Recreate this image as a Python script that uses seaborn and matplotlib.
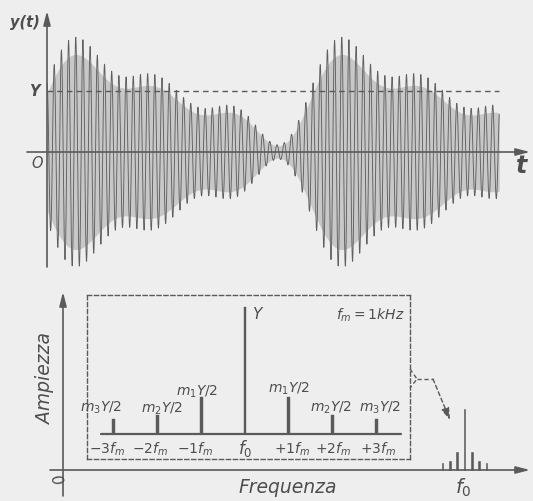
import numpy as np
import matplotlib
matplotlib.use("Agg")
import matplotlib.pyplot as plt
import seaborn as sns

# ---------------- data ----------------
carrier_amp = 1.0                      # Y
mod_index = [0.58, 0.30, 0.24]         # m1, m2, m3
sideband_order = [-3, -2, -1, 0, 1, 2, 3]
spectrum_amps = [mod_index[2] / 2, mod_index[1] / 2, mod_index[0] / 2, carrier_amp,
                 mod_index[0] / 2, mod_index[1] / 2, mod_index[2] / 2]
bar_labels = [r'$m_3Y/2$', r'$m_2Y/2$', r'$m_1Y/2$', 'Y',
              r'$m_1Y/2$', r'$m_2Y/2$', r'$m_3Y/2$']
tick_labels = [r'$-3f_m$', r'$-2f_m$', r'$-1f_m$', r'$f_0$',
               r'$+1f_m$', r'$+2f_m$', r'$+3f_m$']
fm_khz = 1.0                           # modulating frequency (1 period = 1 ms)
carrier_khz = 37.0                     # carrier cycles per modulation period
signal_span_ms = 1.70                  # duration of drawn waveform
envelope_phase_ms = -0.011             # time of the envelope's steep rise
f0_small = 55.0                        # carrier position on the lower frequency axis

# ---------------- style ----------------
sns.set_theme(style="white")
plt.rcParams['font.family'] = ['DejaVu Sans']
plt.rcParams['mathtext.fontset'] = 'dejavusans'
BG = '#eeeeee'
INK = '#5a5a5a'
TXT = '#4e4e4e'

W, H = 533, 502
fig = plt.figure(figsize=(W / 100, H / 100), dpi=100, facecolor=BG)

# ---------------- top panel: modulated signal ----------------
ax = fig.add_axes([0, 1 - 280 / H, 1, 280 / H])
ax.set_facecolor('none')
PXT = 266.0   # px per ms
PYT = 61.0    # px per Y
ax.set_xlim(-47 / PXT, (W - 47) / PXT)
ax.set_ylim(-(280 - 153) / PYT, 153 / PYT)
ax.axis('off')

def ptop(px, py):
    return (px - 47) / PXT, (153 - py) / PYT

t = np.linspace(0, signal_span_ms, 24000)
theta = 2 * np.pi * fm_khz * (t - envelope_phase_ms)
env = carrier_amp * (1 + sum(m * np.sin((k + 1) * theta) for k, m in enumerate(mod_index)))
y = env * np.cos(2 * np.pi * carrier_khz * t)

ax.fill_between(t, -0.85 * env, 0.85 * env, color='#b0b0b0', alpha=0.6, lw=0)
sns.lineplot(x=t, y=y, ax=ax, sort=False, estimator=None, color='#606060', lw=0.65)

# Y dashed reference
ax.plot([0, signal_span_ms], [carrier_amp, carrier_amp], color=INK, lw=1.0,
        ls=(0, (4, 3)))

arrow_kw = dict(arrowstyle='-|>,head_length=0.7,head_width=0.18', color=INK, lw=1.2,
                shrinkA=0, shrinkB=0)
ax.annotate('', xy=ptop(530, 153), xytext=ptop(27, 153), arrowprops=arrow_kw)
ax.annotate('', xy=ptop(47, 12), xytext=ptop(47, 268), arrowprops=arrow_kw)

ax.text(*ptop(25, 23), 'y(t)', fontsize=10.5, style='italic', weight='bold',
        color=TXT, ha='center', va='center')
ax.text(*ptop(34, 92), 'Y', fontsize=10.5, style='italic', weight='bold',
        color=TXT, ha='center', va='center')
ax.text(*ptop(37, 164), 'O', fontsize=10.5, style='italic', color=TXT,
        ha='center', va='center')
ax.text(*ptop(522, 166), 't', fontsize=17, style='italic', weight='bold',
        color=TXT, ha='center', va='center')

# ---------------- bottom panel: spectrum ----------------
bx = fig.add_axes([0, 0, 1, 222 / H])
bx.set_facecolor('none')
PXB = 7.3
PYB = 61.0

def pbot(px, py):
    return (px - 63) / PXB, (471 - py) / PYB

small_freqs = [f0_small + k * fm_khz for k in sideband_order]
sns.barplot(x=small_freqs, y=spectrum_amps, ax=bx, native_scale=True,
            width=0.22, color=INK, saturation=1, edgecolor=INK, linewidth=0.4)
bx.set_xlim(-63 / PXB, (W - 63) / PXB)
bx.set_ylim(-(502 - 471) / PYB, (471 - 280) / PYB)
bx.axis('off')

bx.annotate('', xy=pbot(530, 471), xytext=pbot(50, 471), arrowprops=arrow_kw)
bx.annotate('', xy=pbot(63, 293), xytext=pbot(63, 497), arrowprops=arrow_kw)

bx.text(*pbot(45, 378), 'Ampiezza', fontsize=13.5, style='italic', color=TXT,
        rotation=90, ha='center', va='center')
bx.text(*pbot(288, 488), 'Frequenza', fontsize=13.5, style='italic', color=TXT,
        ha='center', va='center')
bx.text(*pbot(463, 488), r'$f_0$', fontsize=14, color=TXT, ha='center', va='center')
bx.text(*pbot(55, 480), '0', fontsize=11, style='italic', color=TXT,
        ha='center', va='center', rotation=-70)

# dashed connector from inset to small spectrum
dash_kw = dict(color=INK, lw=1.0, ls=(0, (3, 2)))
p1, p2, p3 = pbot(410, 370), pbot(417, 380), pbot(410, 389)
bx.plot([p1[0], p2[0], p3[0]], [p1[1], p2[1], p3[1]], **dash_kw)
p4 = pbot(433, 380)
bx.plot([p2[0], p4[0]], [p2[1], p4[1]], **dash_kw)
bx.annotate('', xy=pbot(450, 421), xytext=p4,
            arrowprops=dict(arrowstyle='-|>,head_length=0.6,head_width=0.2',
                            color=INK, lw=1.0, ls=(0, (3, 2)),
                            shrinkA=0, shrinkB=0))

# ---------------- inset: zoomed spectrum ----------------
ix = fig.add_axes([87 / W, 1 - 460 / H, 323 / W, 164 / H])
ix.set_facecolor('none')
PXI = 43.8
PYI = 127.0
C0 = 245

def pin(px, py):
    return (px - C0) / PXI, (435 - py) / PYI

sns.barplot(x=sideband_order, y=spectrum_amps, ax=ix, native_scale=True,
            width=0.065, color=INK, saturation=1, edgecolor=INK, linewidth=0.3)
ix.set_xlim((87 - C0) / PXI, (410 - C0) / PXI)
ix.set_ylim(-(460 - 435) / PYI, (435 - 296) / PYI)
ix.set_xticks([])
ix.set_yticks([])
ix.set_xlabel('')
ix.set_ylabel('')
for s in ix.spines.values():
    s.set_visible(True)
    s.set_color(INK)
    s.set_linewidth(1.0)
    s.set_linestyle((0, (3, 2)))

bx0, _ = pin(101, 435)
bx1, _ = pin(401, 435)
ix.plot([bx0, bx1], [0, 0], color=INK, lw=1.6)

label_px = [(101, 408), (162, 409), (197, 392), (257, 315),
            (289, 389), (331, 408), (380, 408)]
for lab, (px, py) in zip(bar_labels, label_px):
    if lab == 'Y':
        ix.text(*pin(px, py), lab, fontsize=11, style='italic', color=TXT,
                ha='center', va='center')
    else:
        ix.text(*pin(px, py), lab, fontsize=10, color=TXT, ha='center', va='center')

tick_px = [107, 150, 195, 245, 292, 333, 378]
for lab, px in zip(tick_labels, tick_px):
    fs = 12 if lab == r'$f_0$' else 10
    ix.text(*pin(px, 449), lab, fontsize=fs, color=TXT, ha='center', va='center')

ix.text(*pin(370, 315), r'$f_m = 1kHz$', fontsize=10, color=TXT,
        ha='center', va='center')

fig.savefig('out.png', dpi=100, facecolor=BG)
